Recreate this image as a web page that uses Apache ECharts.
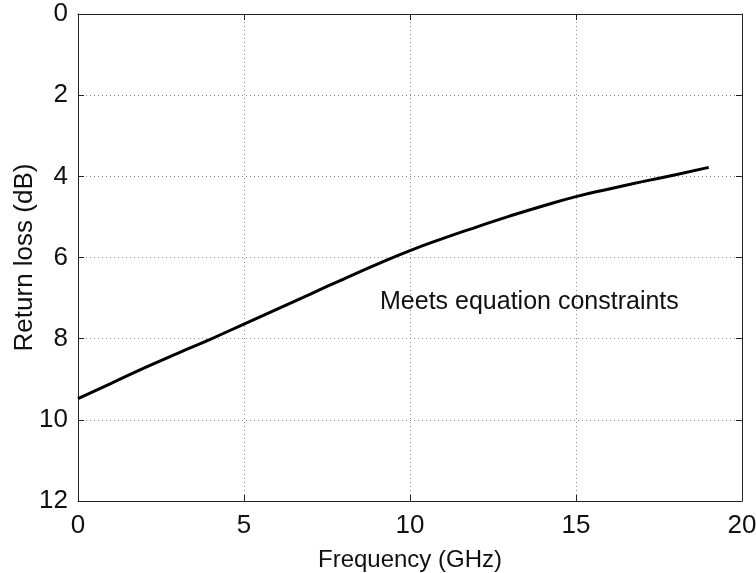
<!DOCTYPE html>
<html lang="en">
<head>
    <meta charset="UTF-8">
    <title>Return loss</title>
    <style>
        html,body{
            margin: 0;
            padding: 0;
            background: #fff;
        }
        #chartmain{
            width: 756px;
            height: 573px;
        }
    </style>
</head>
<body>
<div id="chartmain"></div>
<script src="https://cdn.jsdelivr.net/npm/echarts@6/dist/echarts.min.js"></script>
<script type="text/javascript">
    // values
    var freq = [0, 1, 2, 3, 4, 5, 6, 7, 8, 9, 10, 11, 12, 13, 14, 15, 16, 17, 18, 19];
    var returnLoss = [9.48, 9.1, 8.72, 8.36, 8.01, 7.64, 7.27, 6.9, 6.53, 6.17, 5.83, 5.53, 5.25, 4.98, 4.73, 4.5, 4.31, 4.13, 3.96, 3.78];
    var xTicks = [0, 5, 10, 15, 20];
    var yTicks = [0, 2, 4, 6, 8, 10, 12];
    var note = 'Meets equation constraints';

    var font = '"Liberation Sans", Arial, sans-serif';
    var pts = [];
    for (var i = 0; i < freq.length; i++) {
        pts.push([freq[i], returnLoss[i]]);
    }

    var gridLine = {show: true, lineStyle: {color: '#8c8c8c', width: 1, type: [1, 3]}};
    var frame = {show: true, onZero: false, lineStyle: {color: '#222', width: 1}};
    var tick = {show: true, inside: true, length: 6, lineStyle: {color: '#222'}};

    option = {
        animation: false,
        grid: {left: 78, top: 14, right: 14, bottom: 72, containLabel: false, outerBoundsMode: 'none'},
        xAxis: [{
            type: 'value',
            min: xTicks[0],
            max: xTicks[xTicks.length - 1],
            interval: 5,
            name: 'Frequency (GHz)',
            nameLocation: 'middle',
            nameGap: 47,
            nameTextStyle: {fontFamily: font, fontSize: 24, color: '#111'},
            axisLine: frame,
            axisTick: tick,
            splitLine: gridLine,
            axisLabel: {fontFamily: font, fontSize: 26, color: '#111', margin: 12}
        }, {
            type: 'value',
            position: 'top',
            min: xTicks[0],
            max: xTicks[xTicks.length - 1],
            interval: 5,
            axisLine: frame,
            axisTick: tick,
            splitLine: {show: false},
            axisLabel: {show: false}
        }],
        yAxis: [{
            type: 'value',
            inverse: true,
            min: yTicks[0],
            max: yTicks[yTicks.length - 1],
            interval: 2,
            name: 'Return loss (dB)',
            nameLocation: 'middle',
            nameGap: 40,
            nameMoveOverlap: false,
            nameTextStyle: {fontFamily: font, fontSize: 26, color: '#111'},
            axisLine: frame,
            axisTick: tick,
            splitLine: gridLine,
            axisLabel: {fontFamily: font, fontSize: 26, color: '#111', margin: 10}
        }, {
            type: 'value',
            position: 'right',
            inverse: true,
            min: yTicks[0],
            max: yTicks[yTicks.length - 1],
            interval: 2,
            axisLine: frame,
            axisTick: tick,
            splitLine: {show: false},
            axisLabel: {show: false}
        }],
        graphic: [{
            type: 'text',
            left: 380,
            top: 290,
            style: {text: note, font: '25px ' + font, fill: '#111'}
        }],
        series: [{
            type: 'line',
            data: pts,
            smooth: true,
            showSymbol: false,
            lineStyle: {color: '#000', width: 3}
        }]
    };

    var myChart = echarts.init(document.getElementById('chartmain'));
    myChart.setOption(option);
</script>
</body>
</html>
